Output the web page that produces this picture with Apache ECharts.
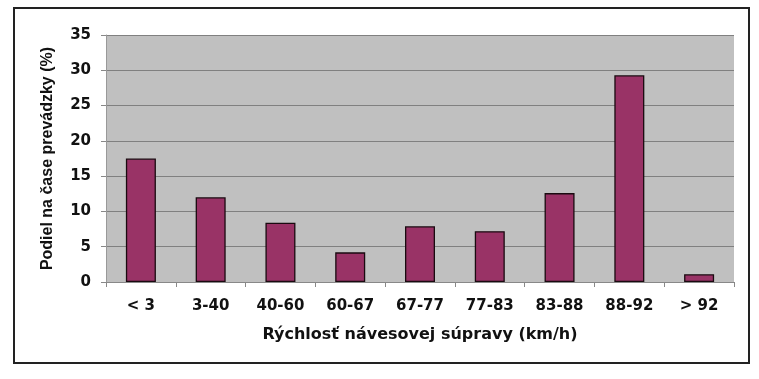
<!DOCTYPE html>
<html><head><meta charset="utf-8">
<script src="https://cdn.jsdelivr.net/npm/echarts@6/dist/echarts.min.js"></script>
<style>html,body{margin:0;padding:0;background:#fff}#c{width:759px;height:379px}</style>
</head><body><div id="c"></div>
<script>
var categories = ['< 3','3-40','40-60','60-67','67-77','77-83','83-88','88-92','> 92'];
var values = [17.5, 12.0, 8.4, 4.2, 7.9, 7.2, 12.6, 29.3, 1.1];
var yTicks = [0, 5, 10, 15, 20, 25, 30, 35];
var xTitle = 'Rýchlosť návesovej súpravy (km/h)';
var yTitle = 'Podiel na čase prevádzky (%)';

var chart = echarts.init(document.getElementById('c'), null, {renderer:'canvas'});
var wide = '"DejaVu Sans", Verdana, sans-serif';
var font = '"Liberation Sans", Arial, sans-serif';
chart.setOption({
  animation:false,
  graphic:[{type:'rect', shape:{x:14,y:8,width:735,height:355}, style:{fill:'none', stroke:'#222', lineWidth:2}, z:-1}],
  grid:{left:106, right:25, top:35, bottom:97, show:true, backgroundColor:'#c0c0c0', borderWidth:0},
  xAxis:{type:'category', data:categories,
    axisLine:{show:true, lineStyle:{color:'#888', width:1}},
    axisTick:{show:true, length:5, lineStyle:{color:'#888'}},
    axisLabel:{color:'#111', fontFamily:wide, fontWeight:'bold', fontSize:15, margin:17},
    name:xTitle, nameLocation:'middle', nameGap:45,
    nameTextStyle:{color:'#111', fontFamily:wide, fontWeight:'bold', fontSize:16}},
  yAxis:{type:'value', min:yTicks[0], max:yTicks[yTicks.length-1], interval:5,
    axisLine:{show:true, lineStyle:{color:'#999', width:1}},
    axisTick:{show:true, length:5, lineStyle:{color:'#888'}},
    splitLine:{lineStyle:{color:'#808080', width:1}},
    axisLabel:{color:'#111', fontFamily:wide, fontWeight:'bold', fontSize:15, margin:15},
    name:yTitle, nameLocation:'middle', nameGap:50, nameRotate:90,
    nameTextStyle:{color:'#111', fontFamily:font, fontWeight:'bold', fontSize:16}},
  series:[{type:'bar', data:values, barWidth:'43%',
    itemStyle:{color:'#993366', borderColor:'#1a0a10', borderWidth:1.3}}]
});
</script></body></html>
